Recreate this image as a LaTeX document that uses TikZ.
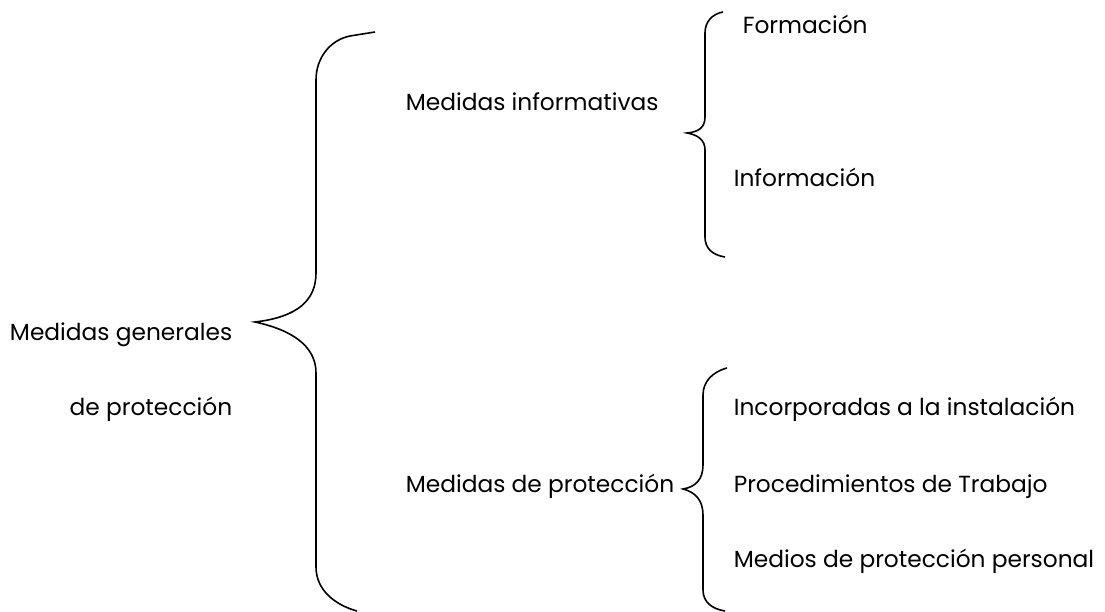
\documentclass[tikz,border=0pt]{standalone}
\usepackage{fontspec}
\setmainfont{Poppins}
\begin{document}
\begin{tikzpicture}[x=1pt,y=-1pt,line width=1.6pt,
  lbl/.style={inner sep=0mm,font=\fontsize{23.3}{28}\selectfont}]
\useasboundingbox (0,0) rectangle (1105,612);
% labels
\node[lbl,anchor=base east] (gen1) at (233,340) {Medidas generales};
\node[lbl,anchor=base east] (gen2) at (233,415) {de protección};
\node[lbl,anchor=base west] (info) at (405,111) {Medidas informativas};
\node[lbl,anchor=base west] (prot) at (405,492) {Medidas de protección};
\node[lbl,anchor=base west] (form) at (742,34) {Formación};
\node[lbl,anchor=base west] (infor) at (733,187) {Información};
\node[lbl,anchor=base west] (incorp) at (733,415) {Incorporadas a la instalación};
\node[lbl,anchor=base west] (proc) at (733,492) {Procedimientos de Trabajo};
\node[lbl,anchor=base west] (medios) at (733,567) {Medios de protección personal};
% braces
\draw (375,32) -- (350,36) .. controls (330,40) and (316,58) .. (316,80) -- (316,273)
  .. controls (316,300) and (298,317) .. (255,322)
  .. controls (292,330) and (316,346) .. (316,373) -- (316,567)
  .. controls (316,590) and (335,605) .. (357,611);
\draw (723,12) .. controls (712,14) and (705,22) .. (705,33) -- (705,117)
  .. controls (705,128) and (698,132) .. (687,133)
  .. controls (698,135) and (705,140) .. (705,150) -- (705,237)
  .. controls (705,248) and (712,255) .. (725,257);
\draw (727,368) .. controls (712,372) and (703,382) .. (703,395) -- (703,465)
  .. controls (703,480) and (695,487) .. (683,489)
  .. controls (695,492) and (703,500) .. (703,515) -- (703,590)
  .. controls (703,602) and (712,609) .. (725,611);
\end{tikzpicture}
\end{document}
